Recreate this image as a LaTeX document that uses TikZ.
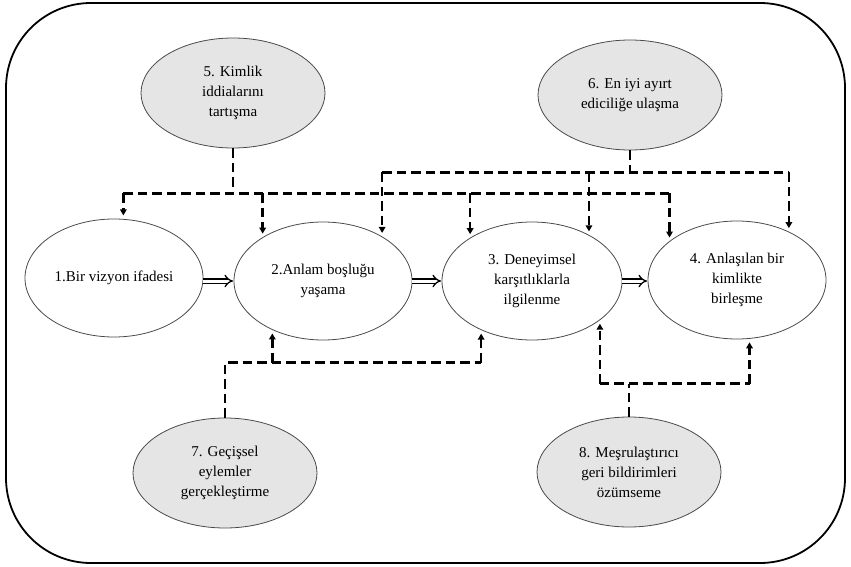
\documentclass[tikz,border=0pt]{standalone}
\usepackage{fontspec}
\setmainfont{Liberation Serif}
\newfontfamily\stagefont{Liberation Serif}
\usetikzlibrary{shapes.geometric,arrows.meta,calc}

\definecolor{stagefill}{HTML}{E6E5E5}
\definecolor{edgegray}{HTML}{4A4A4A}

\tikzset{
  stage/.style={ellipse, draw=edgegray, line width=0.8pt, inner sep=0pt,
    align=center, font=\stagefont\fontsize{15}{20}\selectfont},
  mainstage/.style={stage, fill=white, minimum width=178pt, minimum height=118pt},
  sidestage/.style={stage, fill=stagefill, minimum width=184pt, minimum height=110pt},
  dashline/.style={line width=2.5pt, dash pattern=on 9.5pt off 5pt},
  dasharrow/.style={dashline, -{Triangle[length=6pt,width=6.5pt]}, shorten >=3.5pt},
  flowarrow/.style={double, double distance=3pt, line width=1.3pt,
    -{Implies[scale=1.6]}, shorten >=0.5pt},
}

\begin{document}
\begin{tikzpicture}[x=1pt, y=-1pt]
  \useasboundingbox (0,0) rectangle (851,567);

  % outer frame
  \draw[line width=1.8pt, rounded corners=85pt] (6,3) rectangle (845,563);

  % main stages
  \node[mainstage] (e1) at (114,278) {1.Bir vizyon ifadesi};
  \node[mainstage] (e2) at (323,281) {2.Anlam boşluğu\\yaşama};
  \node[mainstage, minimum width=180pt] (e3) at (532,281) {3. Deneyimsel\\karşıtlıklarla\\ilgilenme};
  \node[mainstage] (e4) at (737,280) {4. Anlaşılan bir\\kimlikte\\birleşme};

  % supporting activities
  \node[sidestage] (e5) at (233,93) {5. Kimlik\\iddialarını\\tartışma};
  \node[sidestage] (e6) at (630,95) {6. En iyi ayırt\\ediciliğe ulaşma};
  \node[sidestage] (e7) at (225,473) {7. Geçişsel\\eylemler\\gerçekleştirme};
  \node[sidestage] (e8) at (629,472) {8. Meşrulaştırıcı\\geri bildirimleri\\özümseme};

  % main flow
  \draw[flowarrow] (e1.east |- e2.west) -- (e2.west);
  \draw[flowarrow] (e2.east |- e3.west) -- (e3.west);
  \draw[flowarrow] (e3.east) -- (e4.west |- e3.east);

  % 5 -> 1, 2, 3, 4
  \coordinate (j5) at ($(e5.south)+(0,-45pt)$);
  \draw[dashline] (e5.south) -- (j5);
  \draw[dashline] (e1.81 |- j5) -- (e4.150 |- j5);
  \draw[dasharrow] (e1.81 |- j5) -- (e1.81);
  \draw[dasharrow] (e2.144 |- j5) -- (e2.144);
  \draw[dasharrow] (e3.145 |- j5) -- (e3.145);
  \draw[dasharrow] (e4.150 |- j5) -- (e4.150);

  % 6 -> 2, 3, 4
  \coordinate (j6) at ($(e6.south)+(0,-22pt)$);
  \draw[dashline] (e6.south) -- (j6);
  \draw[dashline] (e2.37 |- j6) -- (e4.43 |- j6);
  \draw[dasharrow] (e2.37 |- j6) -- (e2.37);
  \draw[dasharrow] (e3.39 |- j6) -- (e3.39);
  \draw[dasharrow] (e4.43 |- j6) -- (e4.43);

  % 7 -> 2, 3
  \coordinate (j7) at ($(e7.north)+(0,55pt)$);
  \draw[dashline] (e7.north) -- (j7) -- (e3.224 |- j7);
  \draw[dasharrow] (e2.224 |- j7) -- (e2.224);
  \draw[dasharrow] (e3.224 |- j7) -- (e3.224);

  % 8 -> 3, 4
  \coordinate (j8) at ($(e8.north)+(0,33pt)$);
  \draw[dashline] (e8.north) -- (j8);
  \draw[dashline] (e3.330 |- j8) -- (e4.282 |- j8);
  \draw[dasharrow] (e3.330 |- j8) -- (e3.330);
  \draw[dasharrow] (e4.282 |- j8) -- (e4.282);
\end{tikzpicture}
\end{document}
